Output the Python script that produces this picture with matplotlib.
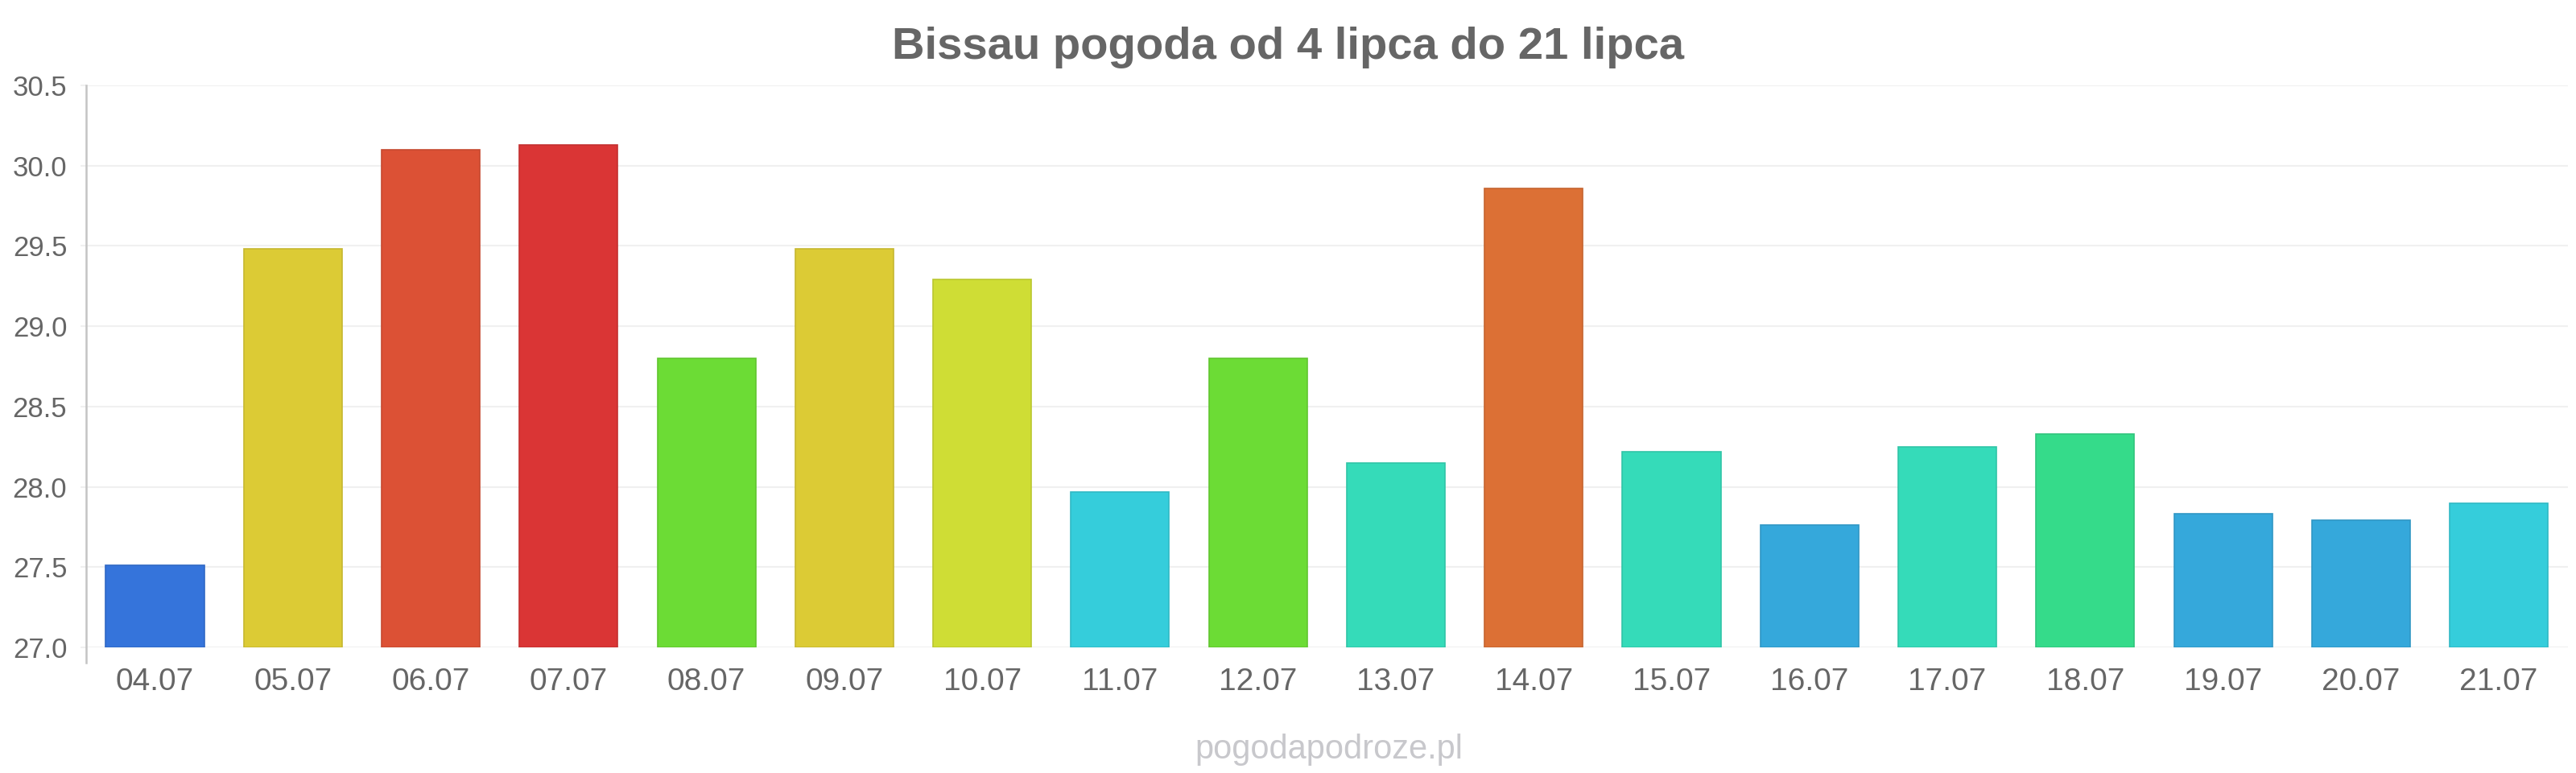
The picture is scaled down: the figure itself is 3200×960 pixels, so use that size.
import numpy as np
import matplotlib
matplotlib.use("Agg")
import matplotlib.pyplot as plt
import matplotlib.colors as mcolors

plt.rcParams['font.family'] = ['Liberation Sans', 'DejaVu Sans']

# Dane: daty i temperatury
dates = ["04.07", "05.07", "06.07", "07.07", "08.07", "09.07", "10.07", "11.07", "12.07",
         "13.07", "14.07", "15.07", "16.07", "17.07", "18.07", "19.07", "20.07", "21.07"]
temps = [27.51, 29.48, 30.10, 30.13, 28.80, 29.48, 29.29, 27.97, 28.80,
         28.15, 29.86, 28.22, 27.76, 28.25, 28.33, 27.83, 27.79, 27.90]
colors = ["#3574db", "#dccb35", "#dc5135", "#da3535", "#6cdc35", "#dccb35", "#cfdd35", "#35cddb", "#6cdc35",
          "#35dbb9", "#dc7035", "#35dbb9", "#35a8db", "#35dbb9", "#35db8a", "#35a8db", "#35a8db", "#35cddb"]
yticks = [27.0, 27.5, 28.0, 28.5, 29.0, 29.5, 30.0, 30.5]

title = "Bissau pogoda od 4 lipca do 21 lipca"
watermark = "pogodapodroze.pl"

fig = plt.figure(figsize=(32, 9.6), dpi=100)
ax = fig.add_axes([0.0334, 0.1625, 0.9634, 0.7271])

x = np.arange(len(dates))
edges = [tuple(np.array(mcolors.to_rgb(c)) * 0.9) for c in colors]
ax.bar(x, np.array(temps) - 27.0, bottom=27.0, width=0.713, color=colors,
       edgecolor=edges, linewidth=1.2, zorder=3)

ax.set_xlim(-0.5, len(dates) - 0.5)
ax.set_ylim(27.0, 30.5)
ax.set_yticks(yticks)
ax.set_yticklabels(["%.1f" % v for v in yticks])
ax.set_xticks(x)
ax.set_xticklabels(dates)

# Siatka i osie
ax.grid(axis="y", color="#f0f0f0", linewidth=1.5, zorder=0)
for s in ["top", "right", "bottom", "left"]:
    ax.spines[s].set_visible(False)
ax.axvline(-0.5, ymin=-0.027, ymax=1.0, color="#c4c4c4", linewidth=1.8, clip_on=False, zorder=4)

ax.tick_params(axis="y", length=5, color="#f0f0f0", width=1.5, pad=12, labelsize=25, labelcolor="#666666")
ax.tick_params(axis="x", length=0, pad=18, labelsize=28, labelcolor="#666666")

fig.text(0.5, 1 - 73 / 960, title, ha="center", va="baseline",
         fontsize=40.5, fontweight="bold", color="#666666")
fig.text(0.516, 1 - 942 / 960, watermark, ha="center", va="baseline",
         fontsize=30, color="#c8c8cc")

fig.savefig("out.png", dpi=100, facecolor="white")
